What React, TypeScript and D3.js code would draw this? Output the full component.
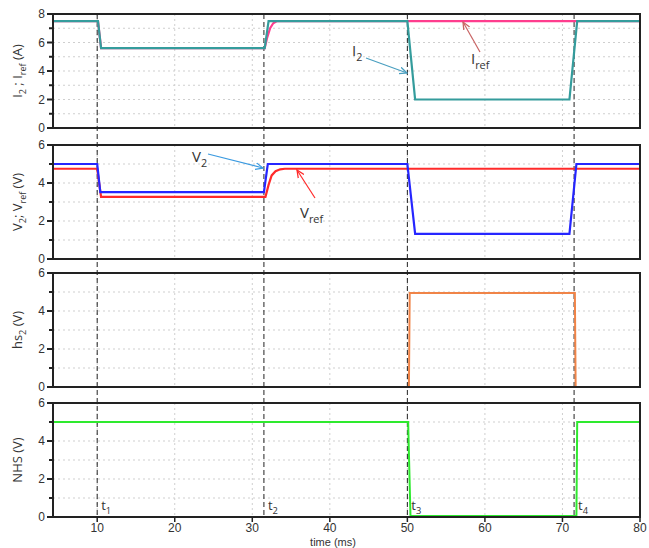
import React from "react";
import * as d3 from "d3";

// ---- data ----
const i2Time = [4.3, 10.1, 10.5, 31.6, 32.1, 50.0, 51.0, 70.9, 71.9, 80];
const i2Vals = [7.5, 7.5, 5.6, 5.6, 7.5, 7.5, 2.0, 2.0, 7.5, 7.5];
const irefTime = [4.3, 10.1, 10.5, 31.6, 31.9, 32.3, 32.7, 33.2, 80];
const irefVals = [7.5, 7.5, 5.6, 5.6, 6.3, 7.0, 7.35, 7.5, 7.5];
const v2Time = [4.3, 10.0, 10.4, 31.5, 32.0, 50.0, 51.0, 70.9, 71.8, 80];
const v2Vals = [5.0, 5.0, 3.52, 3.52, 5.0, 5.0, 1.32, 1.32, 5.0, 5.0];
const vrefTime = [4.3, 10.0, 10.5, 31.7, 32.1, 32.5, 33.0, 33.6, 34.2, 80];
const vrefVals = [4.75, 4.75, 3.27, 3.27, 3.9, 4.4, 4.62, 4.72, 4.75, 4.75];
const hsTime = [4.3, 50.2, 50.3, 71.6, 71.7, 80];
const hsVals = [0, 0, 4.95, 4.95, 0, 0];
const nhsTime = [4.3, 50.1, 50.4, 71.8, 71.9, 80];
const nhsVals = [5.0, 5.0, 0.05, 0.05, 5.0, 5.0];
const tMarks = [10, 31.5, 50, 71.5];
const tNames = ["1", "2", "3", "4"];
const xTicks = [10, 20, 30, 40, 50, 60, 70, 80];

const X0 = 53, X1 = 640;
const panels = [
  { top: 14, max: 8 },
  { top: 145, max: 6 },
  { top: 273, max: 6 },
  { top: 403, max: 6 },
];
const PH = 114;

const x = d3.scaleLinear().domain([4.3, 80]).range([X0, X1]);
const yScale = (p: number) =>
  d3.scaleLinear().domain([0, panels[p].max]).range([panels[p].top + PH, panels[p].top]);

const FONT = "'Open Sans', 'DejaVu Sans', sans-serif";
const TFONT = "'Liberation Sans', Arial, sans-serif";

function series(p: number, t: number[], v: number[]) {
  const y = yScale(p);
  const line = d3.line<number>().x((d) => x(t[d])).y((d) => y(v[d]));
  return line(t.map((_, i) => i)) || "";
}

function Panel({ p, xlabels }: { p: number; xlabels?: boolean }) {
  const y = yScale(p);
  const max = panels[p].max;
  const all = d3.range(0, max + 1);
  const top = panels[p].top;
  return (
    <g>
      {all.slice(1, -1).map((v) => (
        <line key={"g" + v} x1={X0} x2={X1} y1={y(v)} y2={y(v)} stroke="#cfcfcf" strokeDasharray="2,3" strokeWidth={1} />
      ))}
      {xTicks.slice(0, -1).map((t) => (
        <line key={"v" + t} x1={x(t)} x2={x(t)} y1={top} y2={top + PH} stroke="#cfcfcf" strokeDasharray="2,3" strokeWidth={1} />
      ))}
      {all.map((v) => (
        <line key={"t" + v} x1={X0 - (v % 2 === 0 ? 6 : 4)} x2={X0} y1={y(v)} y2={y(v)} stroke="#222" strokeWidth={2} />
      ))}
      {all.filter((v) => v % 2 === 0).map((v) => (
        <text key={"l" + v} x={X0 - 8} y={y(v) + 4.3} textAnchor="end" fontSize={12} fill="#333" fontFamily={TFONT}>{v}</text>
      ))}
      {xlabels && xTicks.map((t) => (
        <g key={"xt" + t}>
          <line x1={x(t)} x2={x(t)} y1={top + PH} y2={top + PH + 5} stroke="#222" strokeWidth={1.5} />
          <text x={x(t)} y={top + PH + 15} textAnchor="middle" fontSize={12} fill="#333" fontFamily={TFONT}>{t}</text>
        </g>
      ))}
    </g>
  );
}

function Frame({ p }: { p: number }) {
  return <rect x={X0} y={panels[p].top} width={X1 - X0} height={PH} fill="none" stroke="#222" strokeWidth={2} />;
}

function Sub({ base, sub, x: tx, y: ty, fs, fill, anchor }: any) {
  return (
    <text x={tx} y={ty} fontSize={fs} fill={fill} fontFamily={FONT} textAnchor={anchor || "start"}>
      {base}
      <tspan dy={fs * 0.3} fontSize={fs * 0.72}>{sub}</tspan>
    </text>
  );
}

export default function App() {
  const yl = 13;
  return (
    <svg width={649} height={548} style={{ position: "absolute", left: 0, top: 0, background: "#fff" }}>
      <rect width={649} height={548} fill="#fff" />
      <Panel p={0} />
      <Panel p={1} />
      <Panel p={2} />
      <Panel p={3} xlabels />
      {/* dashed time markers */}
      {tMarks.map((t) => (
        <line key={t} x1={x(t)} x2={x(t)} y1={panels[0].top} y2={panels[3].top + PH} stroke="#222" strokeDasharray="5,3" strokeWidth={1} />
      ))}
      {/* series */}
      <path d={series(0, irefTime, irefVals)} fill="none" stroke="#ff3d8e" strokeWidth={2.2} />
      <path d={series(0, i2Time, i2Vals)} fill="none" stroke="#349c9c" strokeWidth={2.2} />
      <path d={series(1, vrefTime, vrefVals)} fill="none" stroke="#ff2a2a" strokeWidth={2.2} />
      <path d={series(1, v2Time, v2Vals)} fill="none" stroke="#2626ff" strokeWidth={2.2} />
      <path d={series(2, hsTime, hsVals)} fill="none" stroke="#f08448" strokeWidth={2} />
      <path d={series(3, nhsTime, nhsVals)} fill="none" stroke="#2eea2e" strokeWidth={2} />
      <Frame p={0} />
      <Frame p={1} />
      <Frame p={2} />
      <Frame p={3} />
      {/* t labels */}
      {tMarks.map((t, i) => (
        <Sub key={"tl" + i} base="t" sub={tNames[i]} x={x(t) + 4} y={510} fs={13} fill="#333" />
      ))}
      {/* annotations */}
      <defs>
        {[["aI2", "#4a9fc0"], ["aIref", "#c86464"], ["aV2", "#3a9ae0"], ["aVref", "#ff2a2a"]].map(([id, c]) => (
          <marker key={id} id={id} viewBox="0 0 10 10" refX={9} refY={5} markerWidth={7} markerHeight={7} orient="auto">
            <path d="M0,1 L9,5 L0,9" fill="none" stroke={c} strokeWidth={1.5} />
          </marker>
        ))}
      </defs>
      <Sub base="I" sub="2" x={352} y={56} fs={15} fill="#333" />
      <line x1={366} y1={58} x2={407} y2={73} stroke="#4a9fc0" strokeWidth={1.2} markerEnd="url(#aI2)" />
      <Sub base="I" sub="ref" x={471} y={64} fs={15} fill="#333" />
      <line x1={480} y1={52} x2={463} y2={22} stroke="#c86464" strokeWidth={1.2} markerEnd="url(#aIref)" />
      <Sub base="V" sub="2" x={192} y={162} fs={15} fill="#333" />
      <line x1={208} y1={154} x2={263} y2={168} stroke="#3a9ae0" strokeWidth={1.2} markerEnd="url(#aV2)" />
      <Sub base="V" sub="ref" x={300} y={218} fs={15} fill="#333" />
      <line x1={315} y1={198} x2={297} y2={170} stroke="#ff2a2a" strokeWidth={1.2} markerEnd="url(#aVref)" />
      {/* y axis labels */}
      <text transform={`translate(22,${panels[0].top + PH / 2}) rotate(-90)`} textAnchor="middle" fontSize={yl} fill="#333" fontFamily={FONT}>
        I<tspan dy={4} fontSize={9}>2</tspan><tspan dy={-4}> ; I</tspan><tspan dy={4} fontSize={9}>ref</tspan><tspan dy={-4}> (A)</tspan>
      </text>
      <text transform={`translate(22,${panels[1].top + PH / 2}) rotate(-90)`} textAnchor="middle" fontSize={yl} fill="#333" fontFamily={FONT}>
        V<tspan dy={4} fontSize={9}>2</tspan><tspan dy={-4}>; V</tspan><tspan dy={4} fontSize={9}>ref</tspan><tspan dy={-4}> (V)</tspan>
      </text>
      <text transform={`translate(22,${panels[2].top + PH / 2}) rotate(-90)`} textAnchor="middle" fontSize={yl} fill="#333" fontFamily={FONT}>
        hs<tspan dy={4} fontSize={9}>2</tspan><tspan dy={-4}> (V)</tspan>
      </text>
      <text transform={`translate(22,${panels[3].top + PH / 2}) rotate(-90)`} textAnchor="middle" fontSize={yl} fill="#333" fontFamily={FONT}>
        NHS (V)
      </text>
      <text x={333} y={546} textAnchor="middle" fontSize={11} fill="#333" fontFamily={TFONT}>time (ms)</text>
    </svg>
  );
}
